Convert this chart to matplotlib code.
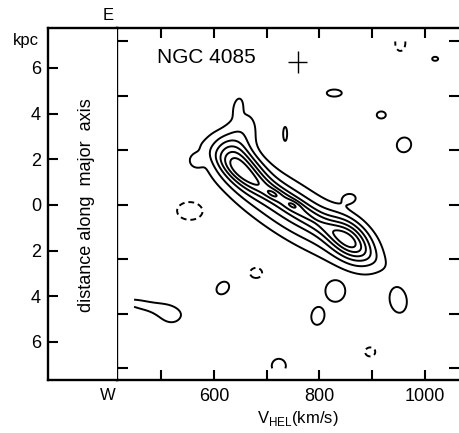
import numpy as np
import matplotlib.pyplot as plt

plt.rcParams['font.family'] = ['Liberation Sans', 'DejaVu Sans']
plt.rcParams['mathtext.fontset'] = 'custom'
plt.rcParams['mathtext.rm'] = 'Liberation Sans'

# HI emission along the disk: velocity (km/s), position (kpc), peak (contour units),
# widths along/across the component in plot pixels, tilt in degrees
ridge_v = [745, 752, 650, 858, 712, 750, 650, 646, 566, 858]
ridge_kpc = [-0.22, -0.09, 1.71, -1.53, 0.48, 0.0, 3.07, 4.34, 1.93, 0.31]
ridge_amp = [3.4, 2.0, 4.3, 4.2, 0.9, 0.9, 1.7, 1.3, 1.2, 1.2]
ridge_sa = [58, 50, 21, 19, 6, 6, 20, 7, 5, 7]
ridge_sb = [17.5, 6, 11, 12, 3, 3, 13, 3.5, 5, 5]
ridge_ang = [-33, -33, -45, -45, -25, -25, 70, 80, 0, 0]

# faint tail at the low-velocity edge (summed together)
tail_v = [465, 517]
tail_kpc = [-4.38, -4.86]
tail_amp = [1.3, 1.2]
tail_sa = [24, 11]
tail_sb = [5.5, 8.5]
tail_ang = [-12, -20]

# isolated noise peaks, each closed at the first contour (negative ones dashed)
blob_v = [828, 917, 960, 1019, 735, 555, 680, 617, 830, 797, 949, 896, 723, 953]
blob_kpc = [4.9, 3.94, 2.63, 6.4, 3.11, -0.26, -2.98, -3.64, -3.77, -4.86, -4.16, -6.44,
            -7.05, 7.1]
blob_amp = [1.5, 1.5, 1.5, 1.5, 1.5, -1.5, -1.5, 1.5, 1.5, 1.5, 1.5, -1.5, 1.5, -1.5]
blob_sa = [8.3, 5.0, 8.3, 3.3, 2.2, 14.4, 6.7, 7.8, 11, 10, 14.4, 5.6, 7.8, 5.6]
blob_sb = [3.9, 3.9, 7.8, 2.2, 7.8, 10, 5.6, 6.1, 12, 7.2, 9.4, 5.0, 7.8, 9]
blob_ang = [0, 0, 60, 0, 0, 0, 0, 45, 0, 80, 100, 0, 0, 0]

levels = [1, 2, 3, 4, 5, 6, 7]
neg_levels = [-1]

v_grid = np.linspace(449, 1066, 600)
kpc_grid = np.linspace(-7.16, 7.16, 600)

px_kms = 0.528    # plot pixels per km/s
px_kpc = 22.83    # plot pixels per kpc
kpc_per_arcmin = 2.387

V, K = np.meshgrid(v_grid, kpc_grid)
S, T = V * px_kms, K * px_kpc


def gauss(v0, k0, a, sa, sb, ang):
    th = np.radians(ang)
    ds, dt = S - v0 * px_kms, T - k0 * px_kpc
    u = ds * np.cos(th) + dt * np.sin(th)
    w = -ds * np.sin(th) + dt * np.cos(th)
    return a * np.exp(-0.5 * ((u / sa) ** 2 + (w / sb) ** 2))


ridge = sum(gauss(*c) for c in zip(ridge_v, ridge_kpc, ridge_amp, ridge_sa, ridge_sb, ridge_ang))
tail = sum(gauss(*c) for c in zip(tail_v, tail_kpc, tail_amp, tail_sa, tail_sb, tail_ang))
pos = np.minimum(tail, 1.6)
neg = np.zeros_like(S)
for c in zip(blob_v, blob_kpc, blob_amp, blob_sa, blob_sb, blob_ang):
    g = gauss(*c)
    if c[2] > 0:
        pos = np.maximum(pos, g)
    else:
        neg = np.minimum(neg, g)
Z = np.maximum(ridge, pos) + neg

fig = plt.figure(figsize=(4.6, 4.33), dpi=100)
W, H = 460, 433
ax = fig.add_axes([117 / W, 53 / H, 343 / W, 352 / H])
strip = fig.add_axes([48 / W, 53 / H, 69 / W, 352 / H])

ax.contour(V, K, Z, levels=levels, colors='black', linewidths=1.4)
cn = ax.contour(V, K, Z, levels=neg_levels, colors='black', linewidths=1.4,
                linestyles='dashed')
cn.set_linestyle((0, (3, 2)))

# resolution cross
ax.errorbar([759], [6.26], xerr=[18], yerr=[0.5], color='black', lw=1.0, capsize=0)

ax.text(585, 6.45, 'NGC 4085', fontsize=15, ha='center', va='center')

ax.set_xlim(416.7, 1066)
ax.set_ylim(-7.67, 7.75)

xt = [500, 600, 700, 800, 900, 1000]
ax.set_xticks(xt)
ax.set_xticklabels(['', '600', '', '800', '', '1000'])
arc = [-3, -2, -1, 0, 1, 2, 3]
ax.set_yticks([a * kpc_per_arcmin for a in arc])
ax.set_yticklabels(["", "2'", "", "0'", "", "2'", ""])
ax.tick_params(axis='x', which='both', direction='in', length=7.5, width=1.5,
               top=True, bottom=True, labelsize=13, pad=6)
ax.tick_params(axis='y', which='both', direction='in', length=8, width=1.5,
               left=True, right=True, labelsize=13, pad=3)
for side in ['top', 'bottom', 'left']:
    ax.spines[side].set_linewidth(1.7)
ax.spines['right'].set_visible(False)

strip.set_ylim(-7.67, 7.75)
strip.set_xlim(0, 1)
strip.set_xticks([])
kt = [-6, -4, -2, 0, 2, 4, 6]
strip.set_yticks(kt)
strip.set_yticklabels([str(abs(k)) for k in kt])
strip.tick_params(axis='y', direction='in', length=7.5, width=1.5, labelsize=13, pad=5)
for side in ['top', 'bottom', 'left']:
    strip.spines[side].set_linewidth(1.7)
strip.spines['right'].set_visible(False)

fig.text(26 / W, 1 - 41 / H, 'kpc', fontsize=12, ha='center', va='center')
fig.text(108 / W, 1 - 15 / H, 'E', fontsize=12, ha='center', va='center')
fig.text(108 / W, 1 - 395 / H, 'W', fontsize=12, ha='center', va='center')
fig.text(87 / W, 1 - 205 / H, 'distance along  major  axis', fontsize=13,
         rotation=90, ha='center', va='center')
fig.text(298 / W, 1 - 418 / H, r'V$_{\rm HEL}$(km/s)', fontsize=12,
         ha='center', va='center')

fig.savefig('out.png', dpi=100)
